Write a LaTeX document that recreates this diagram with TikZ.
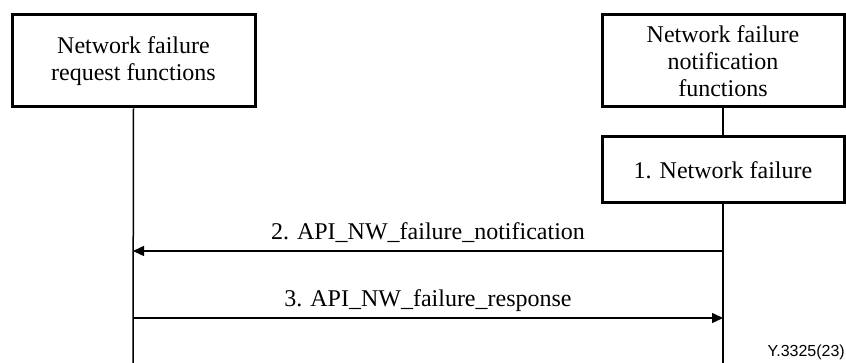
\documentclass[tikz,border=0pt]{standalone}
\usepackage{fontspec}
\setmainfont{Liberation Serif}
\newfontfamily\figfont{Liberation Sans}
\usetikzlibrary{arrows.meta}
\begin{document}
\begin{tikzpicture}[x=1pt,y=-1pt,
  entity/.style={draw, line width=3pt, align=center, inner sep=0pt,
    font=\fontsize{24}{27}\selectfont},
  life/.style={line width=1.5pt},
  msg/.style={line width=1.5pt, -{Triangle[length=11pt,width=10pt]}},
  lbl/.style={font=\fontsize{24}{27}\selectfont, inner sep=0pt},
  tag/.style={font=\figfont\fontsize{16}{18}\selectfont, inner sep=0pt}]
\useasboundingbox (0,0) rectangle (846,363);
\node[entity, minimum width=243pt, minimum height=92pt] (req) at (133.5,61)
  {Network failure\\request functions};
\node[entity, minimum width=242pt, minimum height=92pt] (notif) at (723,61)
  {Network failure\\notification\\functions};
\node[entity, minimum width=242pt, minimum height=66pt] (fail) at (723,170)
  {1. Network failure};
\coordinate (reqend) at (133,363);
\coordinate (notend) at (723,363);
\coordinate (a2r) at (723,251);
\coordinate (a2l) at (133,251);
\coordinate (a3l) at (133,318);
\coordinate (a3r) at (723,318);
\draw[life] (req.south) -- (reqend);
\draw[life] (notif.south) -- (fail.north);
\draw[life] (fail.south) -- (notend);
\draw[msg] (a2r) -- (a2l);
\draw[msg] (a3l) -- (a3r);
\node[lbl] (l2) at (428,233) {2. API\_NW\_failure\_notification};
\node[lbl] (l3) at (428,301) {3. API\_NW\_failure\_response};
\node[tag, anchor=south east] (fig) at (845,360) {Y.3325(23)};
\end{tikzpicture}
\end{document}
